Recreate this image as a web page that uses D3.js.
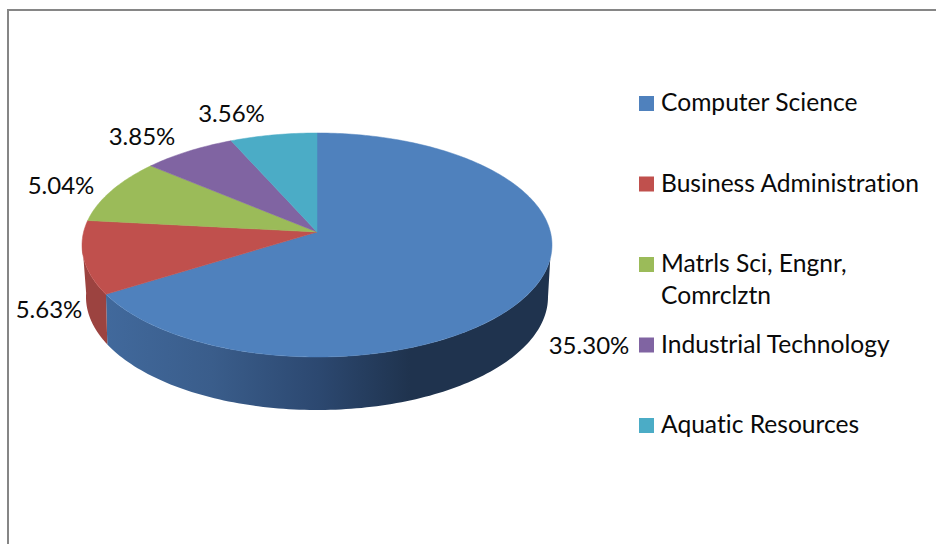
<!DOCTYPE html>
<html>
<head>
<meta charset="utf-8">
<script src="https://cdn.jsdelivr.net/npm/d3@7/dist/d3.min.js"></script>
<style>
html,body{margin:0;padding:0;background:#fff;overflow:hidden}
svg{display:block}
text{font-family:Lato,"Open Sans",sans-serif;fill:#0a0a0a;font-variant-ligatures:none}
</style>
</head>
<body>
<svg id="c" width="936" height="544"></svg>
<script>
const categories = ["Computer Science", "Business Administration", "Matrls Sci, Engnr, Comrclztn", "Industrial Technology", "Aquatic Resources"];
const legendLines = [["Computer Science"], ["Business Administration"], ["Matrls Sci, Engnr,", "Comrclztn"], ["Industrial Technology"], ["Aquatic Resources"]];
const values = [35.30, 5.63, 5.04, 3.85, 3.56];
const colors = ["#4f81bd", "#c0504d", "#9bbb59", "#8064a2", "#4bacc6"];
const wallColors = [null, "#9c4340", null, null, null];
const labelAnchors = [[589, 354], [49, 318], [61, 194], [142, 145], [231.5, 122]];

const svg = d3.select("#c");
const W = 936, H = 544;

// chart frame
svg.append("path").attr("d", `M8,${H}V10H${W}`).attr("fill", "none").attr("stroke", "#868686").attr("stroke-width", 2);

// gradient of the front wall
const grad = svg.append("defs").append("linearGradient").attr("id", "wall")
  .attr("gradientUnits", "userSpaceOnUse").attr("x1", 105).attr("x2", 410).attr("y1", 0).attr("y2", 0);
[[0, "#41699c"], [0.35, "#3a5d8b"], [0.7, "#2c4870"], [1, "#1f334e"]].forEach(s =>
  grad.append("stop").attr("offset", s[0]).attr("stop-color", s[1]));

// perspective of the pie disc: unit circle -> ellipse with off-centre apex
const cx = 317, cy = 245, rx = 235, ry = 112, apexLift = 13;
const persp = -0.116, alpha = 233.4;
function project(a, r = 1) {
  const X = r * Math.sin(a), Y = -r * Math.cos(a), w = 1 + persp * Y;
  return [cx + X * alpha / w, cy + (Y * ry - apexLift) / w];
}
// the bottom rim of the wall
const bx = 231, bcy = 297, by = 113;
const bottomRim = t => [cx + bx * Math.sin(t), bcy - by * Math.cos(t)];
const topRim = t => [cx + rx * Math.sin(t), cy - ry * Math.cos(t)];
const ellipseParam = a => { const p = project(a); return Math.atan2((p[0] - cx) / rx, -(p[1] - cy) / ry); };

const pie = d3.pie().sort(null).value(d => d).startAngle(0).endAngle(2 * Math.PI);
const arcs = pie(values);
const line = d3.line();
const steps = (a, b, n = 120) => d3.range(n + 1).map(i => a + (b - a) * i / n);

// walls
const deg = Math.PI / 180;
const c0 = ellipseParam(arcs[0].endAngle) + 2 * Math.PI;
const blueWall = steps(97 * deg, c0).map(topRim).concat(steps(c0 + 1.3 * deg, 90 * deg).map(bottomRim));
svg.append("path").attr("d", line(blueWall) + "Z").attr("fill", "url(#wall)");
const redWall = steps(c0, 272 * deg).map(topRim).concat(steps(272 * deg, c0 + 1.3 * deg).map(bottomRim));
svg.append("path").attr("d", line(redWall) + "Z").attr("fill", wallColors[1]);

// top faces
svg.append("g").selectAll("path").data(arcs).join("path")
  .attr("d", d => {
    const n = Math.max(8, Math.round((d.endAngle - d.startAngle) * 60));
    return line([project(0, 0)].concat(steps(d.startAngle, d.endAngle, n).map(a => project(a)))) + "Z";
  })
  .attr("fill", (d, i) => colors[i])
  .attr("stroke", (d, i) => colors[i]).attr("stroke-width", 0.5);

// data labels
const fmt = d3.format(".2f");
svg.append("g").selectAll("text").data(values).join("text")
  .attr("x", (d, i) => labelAnchors[i][0]).attr("y", (d, i) => labelAnchors[i][1])
  .attr("text-anchor", "middle").attr("font-size", 24)
  .text(d => fmt(d) + "%");

// legend
const legendY = d3.scaleLinear().domain([0, 4]).range([103.5, 425.5]);
const lg = svg.append("g").selectAll("g").data(categories).join("g")
  .attr("transform", (d, i) => `translate(639,${legendY(i)})`);
lg.append("rect").attr("x", 0).attr("y", -7.5).attr("width", 15).attr("height", 15).attr("fill", (d, i) => colors[i]);
lg.each(function (d, i) {
  d3.select(this).selectAll("text").data(legendLines[i]).join("text")
    .attr("x", 22).attr("y", (t, j) => 7.5 + j * 32).attr("font-size", 24.6).text(t => t);
});
</script>
</body>
</html>
